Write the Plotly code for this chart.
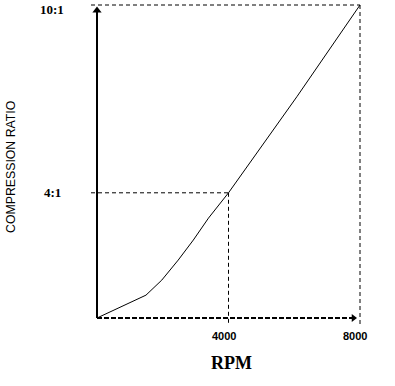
import plotly.graph_objects as go

# ---- data ----
rpm = [0, 1490, 1970, 2470, 2930, 3390, 4000, 5060, 6080, 8000]
ratio = [0, 0.73, 1.21, 1.85, 2.49, 3.19, 4.0, 5.58, 7.07, 10]
x_ticks = [4000, 8000]
x_tick_labels = ["4000", "8000"]
y_ticks = [4, 10]
y_tick_labels = ["4:1", "10:1"]

W, H = 395, 386
# pixel placement of the plotting frame
x0_px, x1_px = 97, 360   # rpm 0 and 8000
y0_px, y1_px = 318, 5    # ratio 0 and 10
xpu = (x1_px - x0_px) / (x_ticks[-1] - 0)
ypu = (y0_px - y1_px) / (y_ticks[-1] - 0)
xmin = -x0_px / xpu
xmax = xmin + W / xpu
ymax = y_ticks[-1] + y1_px / ypu
ymin = ymax - H / ypu

fig = go.Figure()

shapes = []
dash = "4px,3px"
left_ext = -6 / xpu
down_ext = -7 / ypu
for xt, yt in zip(x_ticks, y_ticks):
    shapes.append(dict(type="line", xref="x", yref="y", x0=left_ext, x1=xt, y0=yt, y1=yt,
                       line=dict(color="black", width=1, dash=dash)))
    shapes.append(dict(type="line", xref="x", yref="y", x0=xt, x1=xt, y0=yt, y1=down_ext,
                       line=dict(color="black", width=1, dash=dash)))
# y axis (solid) and x axis (dashed, thick)
shapes.append(dict(type="line", xref="x", yref="y", x0=0, x1=0, y0=0, y1=y_ticks[-1] - 6 / ypu,
                   line=dict(color="black", width=2)))
shapes.append(dict(type="line", xref="x", yref="y", x0=0, x1=x_ticks[-1] - 6 / xpu, y0=0, y1=0,
                   line=dict(color="black", width=2, dash="5px,2px")))
fig.update_layout(shapes=shapes)

# curve
fig.add_trace(go.Scatter(x=rpm, y=ratio, mode="lines",
                         line=dict(color="black", width=1), hoverinfo="skip"))
# arrow heads
fig.add_trace(go.Scatter(x=[0], y=[y_ticks[-1] - 5.4 / ypu], mode="markers",
                         marker=dict(symbol="triangle-up", size=8, color="black"), hoverinfo="skip"))
fig.add_trace(go.Scatter(x=[x_ticks[-1] - 6.5 / xpu], y=[0], mode="markers",
                         marker=dict(symbol="triangle-right", size=7, color="black"), hoverinfo="skip"))

ann = []
for yt, lab in zip(y_ticks, y_tick_labels):
    ann.append(dict(x=-45 / xpu, y=yt, xref="x", yref="y", text="<b>" + lab + "</b>", showarrow=False,
                    xanchor="center", yanchor="middle", yshift=-4 if yt == y_ticks[-1] else 0,
                    font=dict(family="Liberation Serif", size=13, color="black")))
for xt, lab in zip(x_ticks, x_tick_labels):
    ann.append(dict(x=xt, y=0, xref="x", yref="y", text="<b>" + lab + "</b>", showarrow=False,
                    xanchor="center", yanchor="middle", xshift=-5, yshift=-18,
                    font=dict(family="Liberation Sans", size=11, color="black")))
ann.append(dict(x=x_ticks[0], y=0, xref="x", yref="y",
                text="<b>RPM</b>", showarrow=False, xanchor="center", yanchor="middle",
                xshift=3, yshift=-45,
                font=dict(family="Liberation Serif", size=18, color="black")))
ann.append(dict(x=11 / W, y=(H - 167) / H, xref="paper", yref="paper",
                text="COMPRESSION RATIO",
                showarrow=False, textangle=-90, xanchor="center", yanchor="middle",
                font=dict(family="Liberation Sans", size=12.3, color="black")))
fig.update_layout(annotations=ann)

fig.update_layout(
    width=W, height=H, margin=dict(l=0, r=0, t=0, b=0),
    paper_bgcolor="white", plot_bgcolor="white", showlegend=False,
    xaxis=dict(range=[xmin, xmax], visible=False, fixedrange=True),
    yaxis=dict(range=[ymin, ymax], visible=False, fixedrange=True),
)
fig.write_html("out.html", config={"displayModeBar": False},
               post_script="document.body.style.margin='0';document.body.style.padding='0';")
